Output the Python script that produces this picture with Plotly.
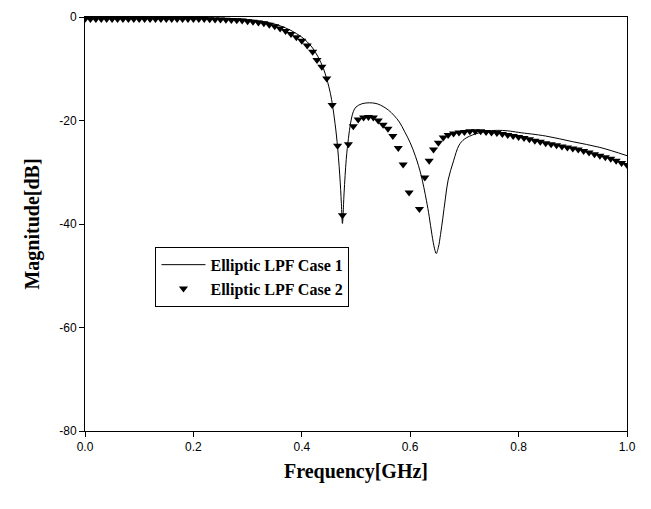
import plotly.graph_objects as go

# Case 1 (solid line)
case1_freq = [0.00, 0.05, 0.10, 0.15, 0.20, 0.25, 0.28, 0.30, 0.32, 0.34, 0.36, 0.38,
              0.40, 0.41, 0.42, 0.43, 0.44, 0.45, 0.455, 0.46, 0.465, 0.47, 0.473, 0.475,
              0.478, 0.482, 0.486, 0.49, 0.495, 0.50, 0.51, 0.52, 0.53, 0.54, 0.55, 0.56,
              0.57, 0.58, 0.59, 0.60, 0.61, 0.62, 0.63, 0.635, 0.64, 0.645, 0.648, 0.652,
              0.656, 0.66, 0.665, 0.67, 0.68, 0.69, 0.70, 0.72, 0.74, 0.76, 0.78, 0.80,
              0.85, 0.90, 0.95, 1.00]
case1_db = [-0.1, -0.1, -0.1, -0.1, -0.15, -0.25, -0.35, -0.5, -0.75, -1.1, -1.7, -2.6,
            -3.9, -4.8, -6.0, -7.7, -10.0, -13.5, -16.0, -19.5, -24.0, -30.5, -36.0, -39.9,
            -34.0, -27.5, -23.5, -20.5, -18.3, -17.4, -16.8, -16.6, -16.6, -16.8, -17.3, -18.0,
            -19.0, -20.3, -22.2, -24.3, -27.0, -30.5, -35.5, -38.5, -42.0, -44.8, -45.7, -44.5,
            -42.0, -39.0, -35.0, -31.5, -27.8, -24.8, -23.6, -22.6, -22.1, -21.9, -22.0, -22.3,
            -23.0, -24.1, -25.2, -26.8]

# Case 2 (triangle markers)
case2_freq = [0.00, 0.01, 0.02, 0.03, 0.04, 0.05, 0.06, 0.07, 0.08, 0.09, 0.10,
              0.11, 0.12, 0.13, 0.14, 0.15, 0.16, 0.17, 0.18, 0.19, 0.20,
              0.21, 0.22, 0.23, 0.24, 0.25, 0.26, 0.27, 0.28, 0.29, 0.30,
              0.31, 0.32, 0.33, 0.34, 0.35, 0.36, 0.37, 0.38, 0.39, 0.40,
              0.41, 0.42, 0.428, 0.437, 0.446, 0.456, 0.466, 0.475, 0.486, 0.495,
              0.504, 0.514, 0.523, 0.532, 0.541, 0.550, 0.559, 0.568, 0.578, 0.587,
              0.598, 0.617, 0.627, 0.635, 0.643, 0.652, 0.661, 0.670, 0.680, 0.69,
              0.70, 0.71, 0.72, 0.73, 0.74, 0.75, 0.76, 0.77, 0.78, 0.79, 0.80,
              0.81, 0.82, 0.83, 0.84, 0.85, 0.86, 0.87, 0.88, 0.89, 0.90,
              0.91, 0.92, 0.93, 0.94, 0.95, 0.96, 0.97, 0.98, 0.99, 1.00]
case2_db = [-0.4, -0.4, -0.4, -0.4, -0.4, -0.4, -0.4, -0.4, -0.4, -0.4, -0.4,
            -0.4, -0.4, -0.4, -0.4, -0.4, -0.4, -0.4, -0.4, -0.4, -0.4,
            -0.4, -0.4, -0.45, -0.5, -0.5, -0.55, -0.6, -0.65, -0.7, -0.8,
            -0.9, -1.05, -1.2, -1.5, -1.8, -2.2, -2.7, -3.3, -3.9, -4.6,
            -5.5, -6.7, -8.3, -9.6, -11.9, -17.0, -24.9, -38.3, -24.6, -21.1,
            -19.8, -19.4, -19.3, -19.4, -20.0, -20.8, -21.6, -23.0, -25.3, -28.5,
            -33.9, -37.1, -31.0, -27.8, -25.6, -24.3, -23.3, -22.8, -22.5, -22.3,
            -22.2, -22.1, -22.1, -22.1, -22.2, -22.3, -22.4, -22.6, -22.8, -23.0, -23.2,
            -23.4, -23.6, -23.9, -24.1, -24.4, -24.6, -24.8, -25.0, -25.2, -25.4,
            -25.6, -25.9, -26.2, -26.5, -26.8, -27.1, -27.4, -27.8, -28.2, -28.6]

x_ticks = [0.0, 0.2, 0.4, 0.6, 0.8, 1.0]
x_tick_labels = ["0.0", "0.2", "0.4", "0.6", "0.8", "1.0"]
y_ticks = [-80, -60, -40, -20, 0]
y_tick_labels = ["-80", "-60", "-40", "-20", "0"]

fig = go.Figure()
fig.add_trace(go.Scatter(
    x=case1_freq, y=case1_db, mode="lines", name="Elliptic LPF Case 1",
    line=dict(color="black", width=1), line_shape="spline",
))
fig.add_trace(go.Scatter(
    x=case2_freq, y=case2_db, mode="markers", name="Elliptic LPF Case 2",
    marker=dict(symbol="triangle-down", color="black", size=8),
))

axis_common = dict(
    showgrid=False, zeroline=False, showline=True, linecolor="black", linewidth=1,
    mirror=True, ticks="outside", ticklen=5, tickcolor="black",
    ticklabeloverflow="allow",
    tickfont=dict(family="Liberation Sans, Arial", size=12, color="black"),
)

# The page body has an 8px default margin, so the figure is sized to fit the
# 651x509 window with the plot area at the same place as in the reference.
fig.update_layout(
    width=635, height=493,
    margin=dict(l=77, r=16, t=9, b=70, autoexpand=False),
    paper_bgcolor="white", plot_bgcolor="white",
    xaxis=dict(range=[0, 1], tickvals=x_ticks, ticktext=x_tick_labels,
               title=dict(text="Frequency[GHz]", standoff=10,
                          font=dict(family="Liberation Serif, Times New Roman", size=20,
                                    color="black", weight="bold")),
               **axis_common),
    yaxis=dict(range=[-80, 0], tickvals=y_ticks, ticktext=y_tick_labels,
               title=dict(text="Magnitude[dB]", standoff=14,
                          font=dict(family="Liberation Serif, Times New Roman", size=20,
                                    color="black", weight="bold")),
               **axis_common),
    legend=dict(x=0.13, y=0.445, xanchor="left", yanchor="top",
                bgcolor="white", bordercolor="black", borderwidth=1,
                font=dict(family="Liberation Serif, Times New Roman", size=16,
                          color="black", weight="bold"),
                tracegroupgap=0, itemwidth=44),
    showlegend=True,
)

fig.write_html("out.html")
